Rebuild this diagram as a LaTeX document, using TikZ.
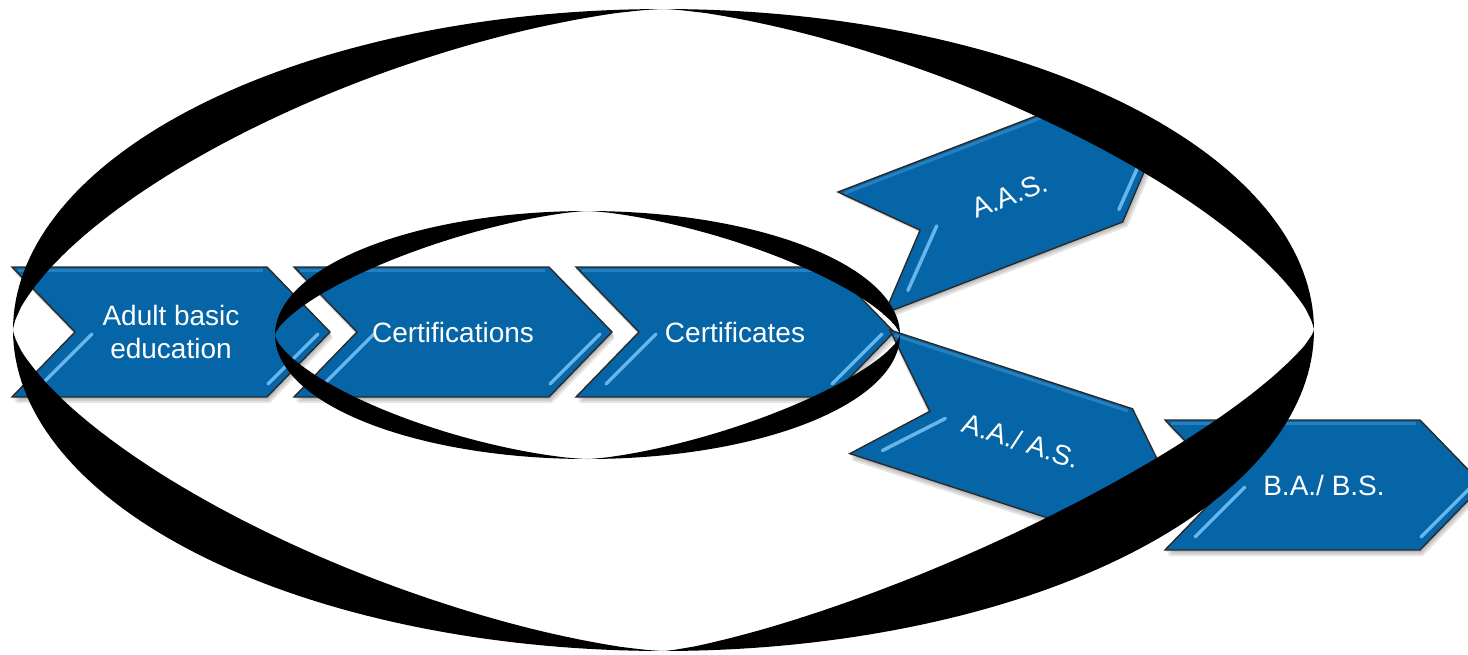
\documentclass[tikz,border=0pt]{standalone}
\usepackage{fontspec}
\setmainfont{Liberation Sans}
\definecolor{chevblue}{HTML}{0665A6}
\definecolor{chevedge}{HTML}{2A2A2A}
\definecolor{glintblue}{HTML}{66B5EB}
\tikzset{
  chevbody/.style={fill=chevblue, draw=chevedge, line width=1.4pt, line join=miter},
  chevshadow/.style={fill=black, opacity=0.10},
  chevglint/.style={draw=glintblue, line width=3.5pt, line cap=round},
  chevtop/.style={draw=glintblue, line width=3pt, opacity=0.35},
  chevtext/.style={text=white, font=\fontsize{28}{33}\selectfont, align=center,
                   transform shape, inner sep=0pt},
  ringfill/.style={fill=black}
}
% #1 node name, #2 top-left corner, #3 rotation, #4 label
\newcommand\chevshape[4]{%
  \begin{scope}[shift={#2}, rotate=#3]
    \foreach \d in {2,4,6}
      \fill[chevshadow] (\d/2,\d) -- (255+\d/2,\d) -- (318+\d/2,65+\d) -- (255+\d/2,130+\d)
        -- (\d/2,130+\d) -- (63+\d/2,65+\d) -- cycle;
    \path[chevbody] (0,0) -- (255,0) -- (318,65) -- (255,130) -- (0,130) -- (63,65) -- cycle;
    \draw[chevtop] (6,3.5) -- (251,3.5);
    \draw[chevglint] (80,67) -- (30,117);
    \draw[chevglint] (306,67) -- (256,117);
    \node[chevtext] (#1) at (159,65) {#4};
  \end{scope}}
% one quarter of a ring: the band between an ellipse and a superellipse
% #1,#2 centre, #3,#4 radii, #5,#6 quadrant signs, #7 exponent of the inner edge
\newcommand\ringlobe[7]{%
  \fill[ringfill]
    plot[domain=0:90, samples=70, variable=\t]
      ({#1+#5*#3*cos(\t)}, {#2+#6*#4*sin(\t)})
    -- plot[domain=90:0, samples=70, variable=\t]
      ({#1+#5*#3*pow(max(cos(\t),0.00001),2/#7)},
       {#2+#6*#4*pow(max(sin(\t),0.00001),2/#7)})
    -- cycle;}
\begin{document}
\begin{tikzpicture}[x=1pt, y=-1pt]
  \useasboundingbox (0,0) rectangle (1468,654);
  \clip (0,0) rectangle (1468,654);

  % the pathway of chevrons
  \chevshape{abe}{(12,267)}{0}{Adult basic\\education}
  \chevshape{certn}{(294,267)}{0}{Certifications}
  \chevshape{certs}{(576,267)}{0}{Certificates}
  \chevshape{aas}{(838,192)}{21}{A.A.S.}
  \chevshape{aaas}{(890,330)}{-18}{A.A./ A.S.}
  \chevshape{babs}{(1165,420)}{0}{B.A./ B.S.}

  % outer ring
  \ringlobe{663.5}{330}{650.5}{321}{-1}{-1}{1.5}
  \ringlobe{663.5}{330}{650.5}{321}{1}{-1}{1.45}
  \ringlobe{663.5}{330}{650.5}{321}{-1}{1}{1.45}
  \ringlobe{663.5}{330}{650.5}{321}{1}{1}{1.3}

  % inner ring round the first three steps
  \ringlobe{587.5}{335}{312.5}{124}{-1}{-1}{1.43}
  \ringlobe{587.5}{335}{312.5}{124}{1}{-1}{1.45}
  \ringlobe{587.5}{335}{312.5}{124}{-1}{1}{1.49}
  \ringlobe{587.5}{335}{312.5}{124}{1}{1}{1.42}
\end{tikzpicture}
\end{document}
